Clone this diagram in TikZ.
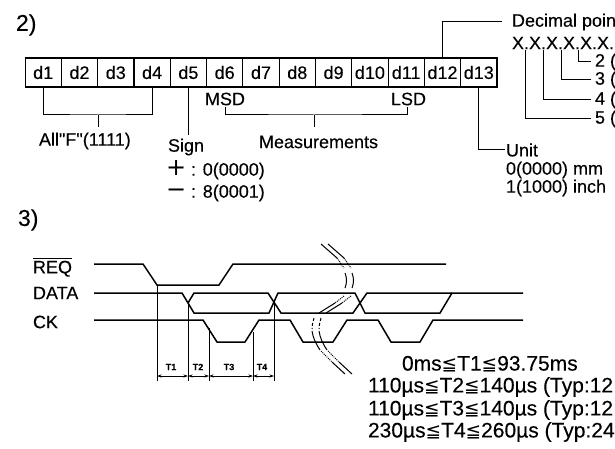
\documentclass[tikz,border=0pt]{standalone}
\usepackage{amsmath}
\usepackage{fontspec}
\newfontfamily\labelfont[FakeBold=0.25]{Liberation Sans}
\newfontfamily\symbolfont{DejaVu Sans}
\usetikzlibrary{arrows.meta, positioning}
\tikzset{
  cell/.style={draw, line width=1.1pt, minimum width=36.3pt, minimum height=29pt, inner sep=0pt, outer sep=0pt},
  lbl/.style={inner sep=0pt, outer sep=0pt, anchor=west},
  lead/.style={line width=1pt},
  wave/.style={line width=1.5pt},
  dim/.style={line width=0.9pt, {Stealth[length=4.5pt,width=3pt]}-{Stealth[length=4.5pt,width=3pt]}},
  limit/.style={lbl, font=\labelfont\fontsize{21}{23}\selectfont}
}
\newcommand{\lsize}{\fontsize{18}{20}\selectfont}
\newcommand{\bigsign}[1]{\smash{\symbolfont\fontsize{24}{24}\selectfont #1}}
\newcommand{\lessq}{{\symbolfont\fontsize{18.5}{20}\selectfont ≦}}
\begin{document}
\begin{tikzpicture}[x=1pt, y=-1pt, font=\labelfont\lsize]
  \useasboundingbox (0,0) rectangle (615,449);
  % Headings
  \node[lbl, font=\labelfont\fontsize{23}{26}\selectfont] (head2) at (16,25) {2)};
  \node[lbl, font=\labelfont\fontsize{23}{26}\selectfont] (head3) at (18,220) {3)};
  % Cells
  \node[cell] (d1) at (43.2,72.5) {d1};
  \foreach \i [remember=\i as \j (initially 1)] in {2,...,13}
    \node[cell, right=0pt of d\j] (d\i) {d\i};
  % Labels under the cells
  \node[lbl] (allf) at (39,141) {All"F"(1111)};
  \node[lbl] (signlabel) at (168,147) {Sign};
  \node[lbl] (signplus) at (166,171) {\bigsign{+} : 0(0000)};
  \node[lbl] (signminus) at (166,193) {\bigsign{−} : 8(0001)};
  \node[lbl] (msd) at (205,99) {MSD};
  \node[lbl] (lsd) at (391,99) {LSD};
  \node[lbl] (meas) at (259,142) {Measurements};
  \node[lbl] (unit) at (506,150) {Unit};
  \node[lbl] (unitmm) at (506,170) {0(0000) mm};
  \node[lbl] (unitinch) at (506,188) {1(1000) inch};
  % Decimal point
  \node[lbl] (decimal) at (512,22) {Decimal poin};
  \node[lbl] (xrow) at (512,43) {X.X.X.X.X.X.};
  \node[lbl] (pos2) at (595,62) {2 (};
  \node[lbl] (pos3) at (595,80) {3 (};
  \node[lbl] (pos4) at (595,100) {4 (};
  \node[lbl] (pos5) at (595,119) {5 (};
  % Leaders
  \coordinate (allfjoin) at (98,115);
  \draw[lead] (d1.south) |- (allfjoin) -| (d4.south);
  \draw[lead] (allfjoin) -- (98,127);
  \draw[lead] (d5.south) -- (d5.south |- 0,135);
  \coordinate (measjoin) at (314,115);
  \draw[lead] (225,107) |- (measjoin) -| (407,107);
  \draw[lead] (measjoin) -- (314,127);
  \draw[lead, shorten >=10pt] (d12.north) |- (decimal.west);
  \draw[lead, shorten >=1pt] (d13.south) |- (unit.west);
  \draw[lead, shorten >=4pt] (578,50) |- (pos2.west);
  \draw[lead, shorten >=4pt] (561,50) |- (pos3.west);
  \draw[lead, shorten >=4pt] (543,50) |- (pos4.west);
  \draw[lead, shorten >=4pt] (525,50) |- (pos5.west);
  % Timing chart
  \node[lbl] (req) at (33,267) {$\overline{\text{REQ}}$};
  \node[lbl] (data) at (33,293) {DATA};
  \node[lbl] (ck) at (33,322) {CK};
  \draw[wave] (94,264) -- (143,264) -- (157,285) -- (219,285) -- (233,264) -- (446,264);
  \draw[wave] (94,293) -- (182,293) -- (194,313) -- (269,313) -- (278,293) -- (355,293) -- (365,313) -- (440,313) -- (452,293) -- (523,293);
  \draw[wave] (188,303) -- (194,293) -- (268,293) -- (281,313) -- (353,313) -- (367,293) -- (452,293);
  \draw[wave] (94,320) -- (203,320) -- (217,342) -- (245,342) -- (259,320) -- (290,320) -- (303,342) -- (333,342) -- (347,320) -- (378,320) -- (391,342) -- (420,342) -- (433,320) -- (523,320);
  % Break marks
  \foreach \dx in {0,7} {
    \begin{scope}[xshift=\dx pt, lead]
      \draw (321,244) -- (337,258);
      \draw[densely dotted] (337,258) -- (344,268);
      \draw (345,273) .. controls (347,278) and (347,283) .. (345,288);
      \draw[densely dotted] (344,296) -- (335,303);
      \draw (335,303) -- (319,313);
      \draw[densely dashed] (314,318) .. controls (313,322) and (312,325) .. (312,329);
      \draw (312,331) .. controls (313,338) and (316,344) .. (320,350);
      \draw[densely dotted] (321,351) -- (332,362);
      \draw (332,362) -- (345,374);
    \end{scope}
  }
  % Time marks
  \coordinate (m0) at (157,285);
  \coordinate (m1) at (188,303);
  \coordinate (m2) at (209,328);
  \coordinate (m3) at (253,332);
  \coordinate (m4) at (274,303);
  \foreach \m in {0,...,4}
    \draw[lead] (m\m) -- (m\m |- 0,381);
  \foreach \i [remember=\i as \j (initially 0)] in {1,...,4}
    \draw[dim] (m\j |- 0,376) -- (m\i |- 0,376);
  \foreach \x/\t in {171/T1, 198/T2, 229/T3, 262/T4}
    \node[inner sep=0pt, font=\labelfont\fontsize{9}{10}\selectfont\bfseries] (lab\t) at (\x,367) {\t};
  % Limits
  \node[limit] (lim1) at (402,364) {0ms\lessq T1\lessq 93.75ms};
  \node[limit] (lim2) at (368,387) {110µs\lessq T2\lessq 140µs (Typ:12};
  \node[limit] (lim3) at (368,410) {110µs\lessq T3\lessq 140µs (Typ:12};
  \node[limit] (lim4) at (368,432) {230µs\lessq T4\lessq 260µs (Typ:24};
\end{tikzpicture}
\end{document}
